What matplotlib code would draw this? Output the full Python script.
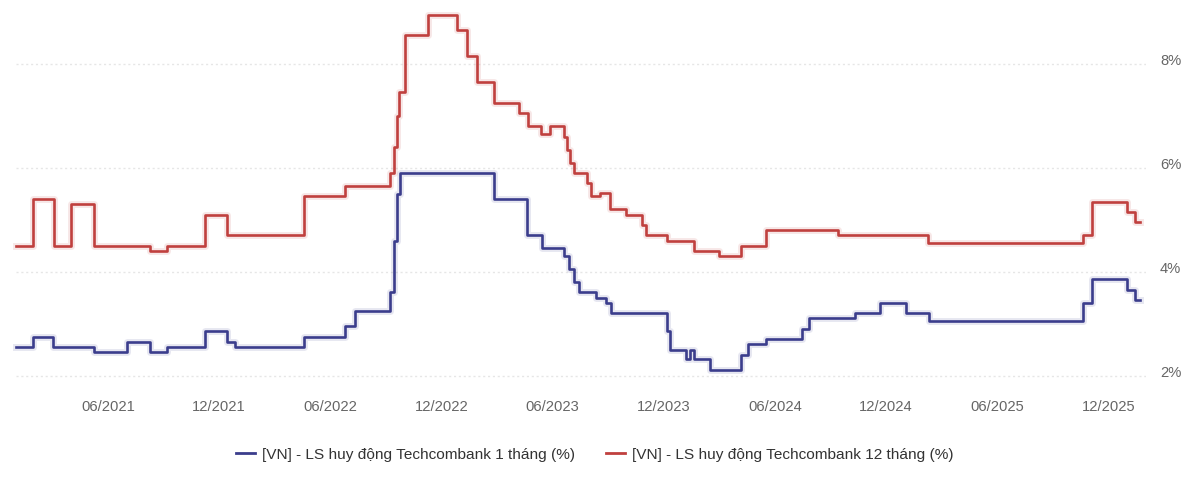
import pandas as pd
import matplotlib
matplotlib.use('Agg')
import matplotlib.pyplot as plt
import matplotlib.dates as mdates
import matplotlib.patheffects as pe
from matplotlib.lines import Line2D

plt.rcParams['font.family'] = ['Liberation Sans', 'DejaVu Sans']

# change dates / rate levels (%), step series
dates_1m = ['2021-01-01', '2021-01-29', '2021-03-03', '2021-05-09', '2021-07-03', '2021-08-09',
            '2021-09-06', '2021-11-08', '2021-12-13', '2021-12-27', '2022-04-20', '2022-06-25',
            '2022-07-12', '2022-09-07', '2022-09-14', '2022-09-19', '2022-09-24', '2023-02-25',
            '2023-04-21', '2023-05-15', '2023-06-21', '2023-06-29', '2023-07-07', '2023-07-15',
            '2023-08-12', '2023-08-29', '2023-09-05', '2023-12-07', '2023-12-12', '2024-01-07',
            '2024-01-13', '2024-01-20', '2024-02-16', '2024-04-07', '2024-04-18', '2024-05-18',
            '2024-07-15', '2024-07-28', '2024-10-10', '2024-11-21', '2025-01-03', '2025-02-10',
            '2025-10-20', '2025-11-04', '2026-01-01', '2026-01-14', '2026-01-22']
rate_1m = [2.55, 2.75, 2.55, 2.45, 2.65, 2.45,
           2.55, 2.85, 2.65, 2.55, 2.75, 2.95,
           3.25, 3.6, 4.6, 5.5, 5.9, 5.4,
           4.7, 4.45, 4.3, 4.05, 3.8, 3.6,
           3.5, 3.4, 3.2, 2.85, 2.5, 2.32,
           2.5, 2.32, 2.1, 2.4, 2.6, 2.7,
           2.9, 3.1, 3.2, 3.4, 3.2, 3.05,
           3.4, 3.85, 3.65, 3.45, 3.45]

dates_12m = ['2021-01-01', '2021-01-29', '2021-03-05', '2021-04-02', '2021-05-09', '2021-08-09',
             '2021-09-06', '2021-11-08', '2021-12-13', '2022-04-20', '2022-06-25', '2022-09-07',
             '2022-09-14', '2022-09-19', '2022-09-22', '2022-10-03', '2022-11-09', '2022-12-26',
             '2023-01-12', '2023-01-28', '2023-02-25', '2023-04-08', '2023-04-23', '2023-05-14',
             '2023-05-28', '2023-06-21', '2023-06-26', '2023-07-01', '2023-07-07', '2023-07-28',
             '2023-08-04', '2023-08-19', '2023-09-04', '2023-10-01', '2023-10-27', '2023-11-02',
             '2023-12-07', '2024-01-21', '2024-03-02', '2024-04-07', '2024-05-18', '2024-09-13',
             '2025-02-07', '2025-10-20', '2025-11-04', '2026-01-01', '2026-01-14', '2026-01-22']
rate_12m = [4.5, 5.4, 4.5, 5.3, 4.5, 4.4,
            4.5, 5.1, 4.7, 5.45, 5.65, 5.9,
            6.4, 7.0, 7.45, 8.55, 8.95, 8.65,
            8.15, 7.65, 7.25, 7.05, 6.8, 6.65,
            6.8, 6.6, 6.35, 6.1, 5.9, 5.7,
            5.45, 5.52, 5.2, 5.1, 4.9, 4.7,
            4.6, 4.4, 4.3, 4.5, 4.8, 4.7,
            4.55, 4.7, 5.35, 5.15, 4.95, 4.95]

label_1m = '[VN] - LS huy động Techcombank 1 tháng (%)'
label_12m = '[VN] - LS huy động Techcombank 12 tháng (%)'
y_ticks = [2, 4, 6, 8]

c_1m = '#3b3d8c'
c_12m = '#c0403e'

fig = plt.figure(figsize=(12, 4.89), dpi=100)
ax = fig.add_axes([16 / 1200, 0.2086, 1130 / 1200, 0.765])

for d, r, c in [(dates_12m, rate_12m, c_12m), (dates_1m, rate_1m, c_1m)]:
    ax.plot(pd.to_datetime(d), r, drawstyle='steps-post', color=c, lw=1.9,
            solid_joinstyle='round', clip_on=False,
            path_effects=[pe.Stroke(linewidth=5, foreground=c, alpha=0.12), pe.Normal()])

ax.set_xlim(pd.Timestamp('2021-01-01'), pd.Timestamp('2026-02-01'))
ax.set_ylim(1.8, 9.0)
ax.set_yticks(y_ticks)
ax.set_yticklabels([f'{v}%' for v in y_ticks])
ax.yaxis.tick_right()
ax.xaxis.set_major_locator(mdates.MonthLocator(bymonth=[6, 12]))
ax.xaxis.set_major_formatter(mdates.DateFormatter('%m/%Y'))

for s in ax.spines.values():
    s.set_visible(False)
ax.tick_params(axis='both', length=0, colors='#666666', labelsize=10.6)
ax.tick_params(axis='x', pad=9.5)
ax.tick_params(axis='y', pad=10)
for lab in ax.get_yticklabels():
    lab.set_verticalalignment('baseline')

ax.grid(axis='y', color='#e6e6e6', lw=1, ls=(0, (1.5, 2)))
ax.set_axisbelow(True)

handles = [Line2D([], [], color=c_1m, lw=2), Line2D([], [], color=c_12m, lw=2)]
fig.legend(handles, [label_1m, label_12m], loc='center', bbox_to_anchor=(0.4955, 1 - 455 / 489),
           ncol=2, frameon=False, fontsize=11.1, handlelength=1.25, handletextpad=0.45,
           columnspacing=2.0, labelcolor='#333333')

fig.savefig('out.png', dpi=100, facecolor='white')
